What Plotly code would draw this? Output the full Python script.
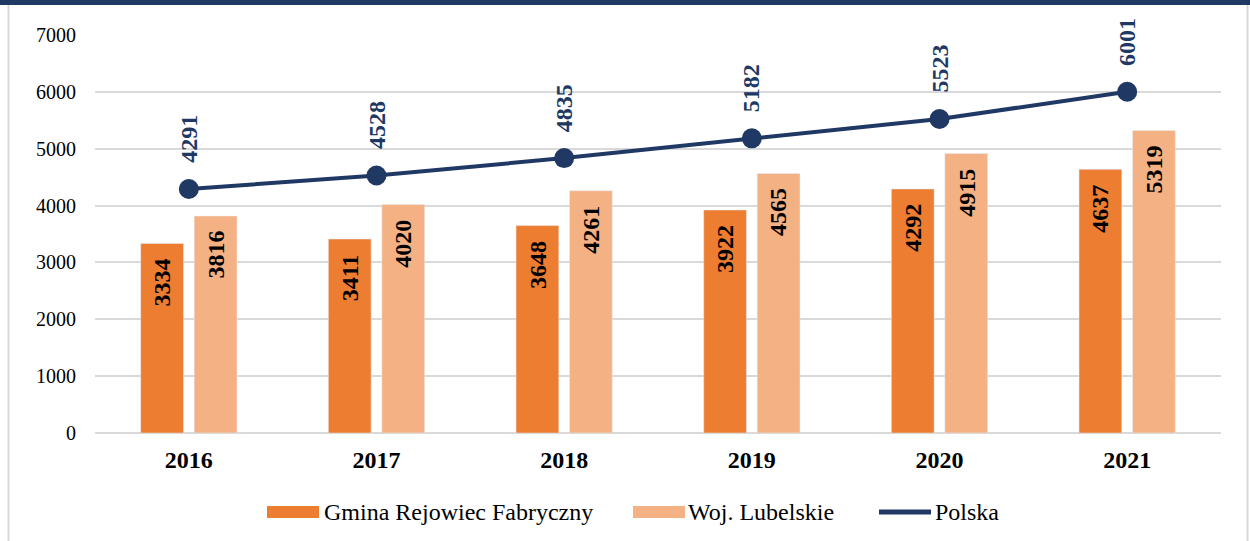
import plotly.graph_objects as go

# Data
years = ["2016", "2017", "2018", "2019", "2020", "2021"]
gmina = [3334, 3411, 3648, 3922, 4292, 4637]
lubelskie = [3816, 4020, 4261, 4565, 4915, 5319]
polska = [4291, 4528, 4835, 5182, 5523, 6001]
series_names = ["Gmina Rejowiec Fabryczny", "Woj. Lubelskie", "Polska"]
y_ticks = [0, 1000, 2000, 3000, 4000, 5000, 6000, 7000]

ORANGE = "#ED7D31"
PEACH = "#F4B183"
NAVY = "#203864"
GRID = "#D9D9D9"
SERIF = "Liberation Serif"

W, H = 1250, 541
ML, MR, MT, MB = 95, 29, 35, 108
PW, PH = W - ML - MR, H - MT - MB
BARGAP, GROUPGAP = 0.43, 0.2


def px(x):
    return (x - ML) / PW


def py(y):
    return (H - MB - y) / PH


fig = go.Figure()
fig.add_trace(go.Bar(x=years, y=gmina, name=series_names[0], marker_color=ORANGE))
fig.add_trace(go.Bar(x=years, y=lubelskie, name=series_names[1], marker_color=PEACH))
fig.add_trace(go.Scatter(x=years, y=polska, name=series_names[2], mode="lines+markers",
                         line=dict(color=NAVY, width=4),
                         marker=dict(color=NAVY, size=20)))

# Value labels (rotated), placed by category index
annotations = []
slot = PW / len(years) * (1 - BARGAP) / 2
label_font = dict(family=SERIF, size=24, color="black")
for i, v in enumerate(gmina):
    annotations.append(dict(x=i, y=v, xref="x", yref="y", text=f"<b>{v}</b>", showarrow=False,
                            textangle=-90, xshift=-slot / 2, yshift=-13, yanchor="top",
                            font=label_font))
for i, v in enumerate(lubelskie):
    annotations.append(dict(x=i, y=v, xref="x", yref="y", text=f"<b>{v}</b>", showarrow=False,
                            textangle=-90, xshift=slot / 2, yshift=-13, yanchor="top",
                            font=label_font))
for i, v in enumerate(polska):
    annotations.append(dict(x=i, y=v, xref="x", yref="y", text=f"<b>{v}</b>", showarrow=False,
                            textangle=-90, yshift=24, yanchor="bottom",
                            font=dict(family=SERIF, size=24, color=NAVY)))

# Legend drawn by hand
shapes = []
leg_y = 512
shapes.append(dict(type="rect", xref="paper", yref="paper", x0=px(267), x1=px(319),
                   y0=py(518), y1=py(506), fillcolor=ORANGE, line_width=0))
shapes.append(dict(type="rect", xref="paper", yref="paper", x0=px(633), x1=px(685),
                   y0=py(518), y1=py(506), fillcolor=PEACH, line_width=0))
shapes.append(dict(type="line", xref="paper", yref="paper", x0=px(879), x1=px(931),
                   y0=py(leg_y), y1=py(leg_y), line=dict(color=NAVY, width=5)))
for label, x0 in zip(series_names, [322, 686, 933]):
    annotations.append(dict(x=px(x0), y=py(leg_y), xref="paper", yref="paper", text=label,
                            showarrow=False, xanchor="left", yanchor="middle",
                            font=dict(family=SERIF, size=24, color="black")))

# Frame: navy band on top, grey side borders
shapes.append(dict(type="rect", xref="paper", yref="paper", x0=px(0), x1=px(W),
                   y0=py(5), y1=py(0), fillcolor="#1F3864", line_width=0, layer="above"))
shapes.append(dict(type="line", xref="paper", yref="paper", x0=px(8.5), x1=px(8.5),
                   y0=py(5), y1=py(H), line=dict(color=GRID, width=2)))
shapes.append(dict(type="line", xref="paper", yref="paper", x0=px(1247.5), x1=px(1247.5),
                   y0=py(5), y1=py(H), line=dict(color=GRID, width=2)))

fig.update_layout(
    width=W, height=H,
    margin=dict(l=ML, r=MR, t=MT, b=MB),
    paper_bgcolor="white", plot_bgcolor="white",
    font=dict(family=SERIF),
    barmode="group", bargap=BARGAP, bargroupgap=GROUPGAP,
    showlegend=False,
    annotations=annotations, shapes=shapes,
    xaxis=dict(type="category", range=[-0.5, len(years) - 0.5], autorange=False,
               showgrid=False, showline=False, ticks="", ticklabelstandoff=10,
               tickfont=dict(family=SERIF, size=24, color="black"),
               tickprefix="<b>", ticksuffix="</b>"),
    yaxis=dict(range=[0, 7000], tickvals=y_ticks, showgrid=True, gridcolor=GRID, gridwidth=1.5,
               zeroline=True, zerolinecolor=GRID, zerolinewidth=2, ticks="",
               ticklabelstandoff=18,
               tickfont=dict(family=SERIF, size=20, color="black")),
)

fig.write_html("out.html")
